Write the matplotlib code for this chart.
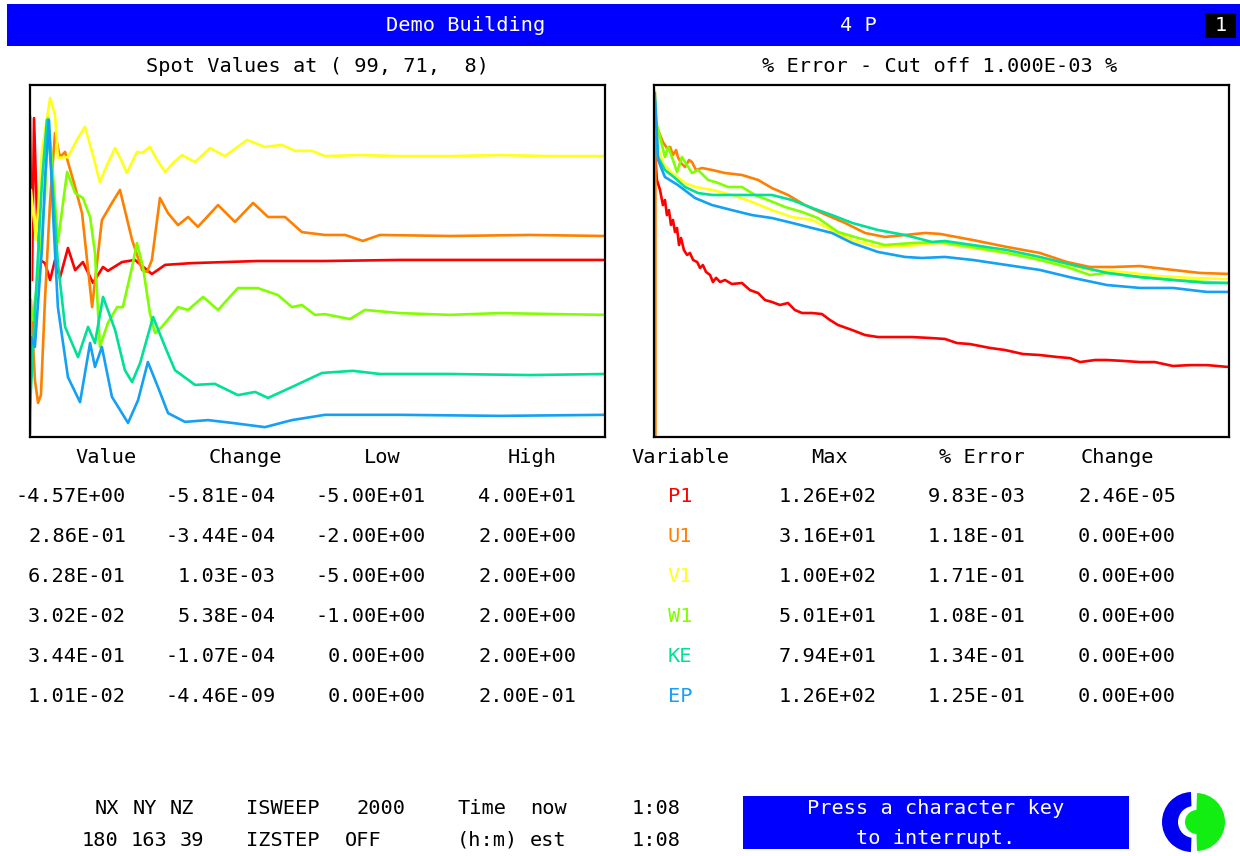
import matplotlib
matplotlib.use("Agg")
import matplotlib.pyplot as plt
from matplotlib.patches import Rectangle, Wedge, Circle

plt.rcParams['font.family'] = ['DejaVu Sans Mono', 'DejaVu Sans']

# ---------------- table data ----------------
variables = ["P1", "U1", "V1", "W1", "KE", "EP"]
var_colors = ["#ff0000", "#ff8000", "#ffff1a", "#80ff00", "#00e096", "#14a0f5"]
spot_value = [-4.57, 0.286, 0.628, 0.0302, 0.344, 0.0101]
spot_change = [-5.81e-4, -3.44e-4, 1.03e-3, 5.38e-4, -1.07e-4, -4.46e-9]
spot_low = [-50.0, -2.0, -5.0, -1.0, 0.0, 0.0]
spot_high = [40.0, 2.0, 2.0, 2.0, 2.0, 0.2]
var_max = [126.0, 31.6, 100.0, 50.1, 79.4, 126.0]
pct_error = [9.83e-3, 0.118, 0.171, 0.108, 0.134, 0.125]
err_change = [2.46e-5, 0.0, 0.0, 0.0, 0.0, 0.0]

# ---------------- spot value history (normalised between Low and High) ----------------
p1_spot_sweep = [0, 7, 14, 24, 35, 52, 70, 87, 104, 132, 157, 184, 219, 254, 271, 320, 365, 424, 470, 563, 678, 793, 1026, 1287, 2000]
p1_spot = [0.909, 0.446, 0.906, 0.636, 0.503, 0.494, 0.446, 0.503, 0.452, 0.537, 0.474, 0.497, 0.438, 0.483, 0.472, 0.497, 0.503, 0.463, 0.489, 0.494, 0.497, 0.500, 0.500, 0.503, 0.503]

u1_spot_sweep = [3, 17, 28, 38, 52, 70, 87, 104, 122, 157, 181, 216, 233, 250, 285, 313, 355, 390, 407, 424, 452, 480, 515, 550, 584, 654, 713, 776, 828, 887, 946, 1026, 1096, 1158, 1217, 1461, 1739, 2000]
u1_spot = [0.389, 0.162, 0.097, 0.119, 0.389, 0.673, 0.864, 0.795, 0.810, 0.710, 0.636, 0.369, 0.494, 0.616, 0.665, 0.702, 0.560, 0.474, 0.469, 0.503, 0.679, 0.636, 0.602, 0.625, 0.597, 0.659, 0.611, 0.665, 0.625, 0.625, 0.582, 0.574, 0.574, 0.557, 0.574, 0.571, 0.574, 0.571]

v1_spot_sweep = [0, 3, 21, 42, 70, 87, 97, 132, 163, 191, 219, 243, 268, 296, 317, 337, 372, 390, 417, 442, 470, 501, 529, 574, 626, 678, 717, 755, 817, 876, 922, 981, 1026, 1148, 1287, 1461, 1635, 1809, 2000]
v1_spot = [0.304, 0.702, 0.560, 0.815, 0.963, 0.915, 0.793, 0.795, 0.844, 0.881, 0.801, 0.724, 0.773, 0.821, 0.787, 0.750, 0.810, 0.807, 0.824, 0.787, 0.753, 0.781, 0.801, 0.781, 0.821, 0.798, 0.821, 0.844, 0.824, 0.830, 0.813, 0.813, 0.798, 0.801, 0.798, 0.798, 0.801, 0.798, 0.798]

w1_spot_sweep = [0, 7, 28, 52, 63, 77, 97, 129, 157, 184, 209, 226, 243, 271, 303, 323, 355, 372, 393, 417, 435, 459, 515, 550, 602, 654, 723, 793, 863, 911, 946, 991, 1026, 1113, 1165, 1287, 1461, 1635, 1843, 2000]
w1_spot = [0.389, 0.332, 0.446, 0.682, 0.906, 0.778, 0.554, 0.753, 0.693, 0.679, 0.625, 0.523, 0.256, 0.324, 0.369, 0.369, 0.483, 0.551, 0.483, 0.352, 0.295, 0.313, 0.369, 0.361, 0.398, 0.361, 0.423, 0.423, 0.403, 0.369, 0.375, 0.347, 0.349, 0.335, 0.361, 0.352, 0.347, 0.352, 0.349, 0.347]

ke_spot_sweep = [0, 17, 42, 59, 77, 97, 122, 146, 167, 202, 226, 254, 296, 330, 355, 383, 428, 470, 504, 574, 643, 723, 783, 828, 911, 1016, 1123, 1217, 1461, 1739, 2000]
ke_spot = [0.085, 0.352, 0.730, 0.901, 0.730, 0.494, 0.313, 0.267, 0.227, 0.313, 0.267, 0.398, 0.304, 0.190, 0.156, 0.210, 0.341, 0.256, 0.190, 0.148, 0.151, 0.119, 0.128, 0.111, 0.142, 0.182, 0.188, 0.179, 0.179, 0.176, 0.179]

ep_spot_sweep = [0, 3, 17, 42, 52, 66, 80, 97, 132, 174, 209, 226, 250, 285, 341, 376, 410, 445, 480, 539, 619, 703, 817, 911, 1026, 1287, 1635, 2000]
ep_spot = [0.011, 0.284, 0.256, 0.540, 0.730, 0.901, 0.636, 0.369, 0.170, 0.099, 0.267, 0.199, 0.256, 0.114, 0.040, 0.105, 0.213, 0.142, 0.068, 0.043, 0.048, 0.040, 0.028, 0.048, 0.063, 0.063, 0.060, 0.063]

# ---------------- % error history ----------------
p1_err_sweep = [3, 10, 21, 31, 38, 45, 52, 59, 66, 73, 80, 87, 94, 104, 115, 125, 136, 150, 160, 170, 181, 195, 205, 216, 230, 247, 271, 306, 334, 362, 386, 410, 438, 466, 490, 515, 550, 584, 612, 640, 689, 734, 779, 838, 897, 960, 1012, 1054, 1099, 1169, 1221, 1283, 1342, 1402, 1447, 1482, 1534, 1576, 1638, 1690, 1742, 1805, 1864, 1923, 2000]
p1_err = [11.9, 4.48, 3.23, 1.97, 2.32, 1.42, 1.67, 1.03, 1.21, 0.817, 0.931, 0.533, 0.671, 0.453, 0.385, 0.411, 0.327, 0.306, 0.252, 0.277, 0.221, 0.200, 0.159, 0.182, 0.159, 0.170, 0.149, 0.154, 0.122, 0.111, 0.0883, 0.0828, 0.0750, 0.0800, 0.0637, 0.0577, 0.0577, 0.0558, 0.0459, 0.0390, 0.0331, 0.0281, 0.0263, 0.0263, 0.0263, 0.0255, 0.0247, 0.0216, 0.0209, 0.0184, 0.0172, 0.0151, 0.0146, 0.0137, 0.0132, 0.0116, 0.0124, 0.0124, 0.0120, 0.0116, 0.0116, 0.0102, 0.0105, 0.0105, 0.00986]

u1_err_sweep = [5, 5, 14, 31, 45, 56, 66, 77, 83, 94, 108, 122, 132, 146, 167, 202, 247, 306, 362, 410, 466, 525, 584, 664, 734, 803, 873, 943, 995, 1109, 1228, 1342, 1436, 1516, 1596, 1690, 1805, 1899, 2000]
u1_err = [0.001, 16.6, 22.9, 15.5, 12.7, 13.2, 10.1, 11.9, 9.49, 7.80, 6.84, 8.61, 8.05, 6.21, 6.62, 6.21, 5.62, 5.27, 4.48, 3.44, 2.74, 1.97, 1.52, 1.10, 0.791, 0.694, 0.740, 0.791, 0.766, 0.628, 0.500, 0.411, 0.306, 0.260, 0.260, 0.268, 0.236, 0.214, 0.207]

v1_err_sweep = [3, 14, 31, 63, 108, 143, 202, 271, 341, 410, 480, 550, 619, 689, 779, 873, 995, 1109, 1228, 1342, 1457, 1516, 1631, 1749, 1864, 2000]
v1_err = [84.9, 13.2, 7.80, 5.62, 4.06, 3.56, 3.23, 2.74, 2.18, 1.67, 1.33, 1.21, 0.871, 0.628, 0.500, 0.516, 0.570, 0.484, 0.411, 0.349, 0.268, 0.236, 0.221, 0.194, 0.182, 0.175]

w1_err_sweep = [3, 21, 38, 49, 66, 80, 97, 132, 153, 188, 223, 257, 306, 351, 397, 456, 515, 570, 640, 710, 803, 897, 995, 1109, 1228, 1342, 1436, 1516, 1576, 1690, 1805, 1923, 2000]
w1_err = [35.1, 18.2, 9.49, 13.2, 8.61, 5.81, 9.49, 5.62, 6.21, 4.48, 4.06, 3.56, 3.56, 2.74, 2.32, 1.85, 1.57, 1.29, 0.817, 0.671, 0.533, 0.570, 0.589, 0.500, 0.411, 0.327, 0.260, 0.200, 0.214, 0.187, 0.170, 0.159, 0.154]

ke_err_sweep = [3, 14, 38, 73, 108, 153, 202, 316, 410, 480, 550, 619, 689, 779, 873, 967, 1012, 1109, 1228, 1342, 1457, 1576, 1690, 1805, 1923, 2000]
ke_err = [61.2, 9.49, 6.21, 4.78, 3.56, 2.92, 2.74, 2.74, 2.74, 2.32, 1.79, 1.42, 1.10, 0.871, 0.740, 0.589, 0.608, 0.533, 0.453, 0.361, 0.277, 0.214, 0.187, 0.170, 0.154, 0.154]

ep_err_sweep = [3, 14, 38, 83, 143, 202, 271, 341, 410, 480, 550, 619, 689, 779, 873, 932, 1012, 1109, 1228, 1342, 1457, 1576, 1690, 1805, 1923, 2000]
ep_err = [76.9, 8.61, 4.93, 3.80, 2.48, 1.97, 1.67, 1.42, 1.29, 1.10, 0.931, 0.791, 0.570, 0.425, 0.361, 0.349, 0.361, 0.327, 0.277, 0.236, 0.182, 0.144, 0.131, 0.131, 0.115, 0.115]

n_sweeps = 2000
err_cutoff = 1.0e-3
err_top = 1.0e2

# ---------------- figure ----------------
W, H = 1240, 856
fig = plt.figure(figsize=(W / 100, H / 100), dpi=100)
fig.patch.set_facecolor("white")

FS = 14.6
TXT = "#000000"
LW = 1.9

ov = fig.add_axes([0, 0, 1, 1], zorder=0)
ov.set_xlim(0, W)
ov.set_ylim(H, 0)
ov.axis("off")


def box_axes(x0, y0, x1, y1):
    ax = fig.add_axes([x0 / W, 1 - y1 / H, (x1 - x0) / W, (y1 - y0) / H], zorder=2)
    ax.set_xticks([])
    ax.set_yticks([])
    for s in ax.spines.values():
        s.set_linewidth(1.6)
        s.set_color("black")
    return ax


# header bar
ov.add_patch(Rectangle((7, 4), 1233, 42, facecolor="#0000ff", edgecolor="none"))
ov.text(466, 25, "Demo Building", color="white", fontsize=FS, ha="center", va="center")
ov.text(858, 25, "4 P", color="white", fontsize=FS, ha="center", va="center")
ov.add_patch(Rectangle((1205, 13), 31, 25, facecolor="black", edgecolor="none"))
ov.text(1221, 25, "1", color="white", fontsize=FS, ha="center", va="center")

# titles
ov.text(318, 66, "Spot Values at ( 99, 71,  8)", color=TXT, fontsize=FS, ha="center", va="center")
ov.text(940, 66, "%% Error - Cut off %.3E %%" % err_cutoff, color=TXT, fontsize=FS,
        ha="center", va="center")

# left plot: spot values
axL = box_axes(30, 85, 605, 437)
spot_series = [(p1_spot_sweep, p1_spot), (u1_spot_sweep, u1_spot), (v1_spot_sweep, v1_spot),
               (w1_spot_sweep, w1_spot), (ke_spot_sweep, ke_spot), (ep_spot_sweep, ep_spot)]
for (sx, sy), c in zip(spot_series, var_colors):
    axL.plot(sx, sy, color=c, lw=LW, solid_joinstyle="round")
axL.set_xlim(0, n_sweeps)
axL.set_ylim(0, 1)

# right plot: % error (log)
axR = box_axes(654, 85, 1229, 437)
err_series = [(p1_err_sweep, p1_err), (u1_err_sweep, u1_err), (v1_err_sweep, v1_err),
              (w1_err_sweep, w1_err), (ke_err_sweep, ke_err), (ep_err_sweep, ep_err)]
for (sx, sy), c in zip(err_series, var_colors):
    axR.plot(sx, sy, color=c, lw=LW, solid_joinstyle="round")
axR.set_yscale("log")
axR.set_xlim(0, n_sweeps)
axR.set_ylim(err_cutoff, err_top)
axR.set_xticks([])
axR.set_yticks([])
axR.minorticks_off()

# table headers
hdr_y = 457
for x, t in [(106, "Value"), (245, "Change"), (382, "Low"), (532, "High"),
             (680, "Variable"), (830, "Max"), (982, "% Error"), (1117, "Change")]:
    ov.text(x, hdr_y, t, color=TXT, fontsize=FS, ha="center", va="center")

row0, dy = 496, 40
fmt = lambda v: "%.2E" % v
for i, var in enumerate(variables):
    y = row0 + i * dy
    ov.text(126, y, fmt(spot_value[i]), color=TXT, fontsize=FS, ha="right", va="center")
    ov.text(276, y, fmt(spot_change[i]), color=TXT, fontsize=FS, ha="right", va="center")
    ov.text(426, y, fmt(spot_low[i]), color=TXT, fontsize=FS, ha="right", va="center")
    ov.text(576, y, fmt(spot_high[i]), color=TXT, fontsize=FS, ha="right", va="center")
    ov.text(680, y, var, color=var_colors[i], fontsize=FS, ha="center", va="center")
    ov.text(877, y, fmt(var_max[i]), color=TXT, fontsize=FS, ha="right", va="center")
    ov.text(1026, y, fmt(pct_error[i]), color=TXT, fontsize=FS, ha="right", va="center")
    ov.text(1176, y, fmt(err_change[i]), color=TXT, fontsize=FS, ha="right", va="center")

# bottom status lines
status1 = [(95, "NX"), (133, "NY"), (170, "NZ"), (246, "ISWEEP"), (357, "2000"),
           (458, "Time"), (530, "now"), (632, "1:08")]
status2 = [(82, "180"), (131, "163"), (180, "39"), (246, "IZSTEP"), (345, "OFF"),
           (457, "(h:m)"), (530, "est"), (632, "1:08")]
for x, t in status1:
    ov.text(x, 809, t, color=TXT, fontsize=FS, ha="left", va="center")
for x, t in status2:
    ov.text(x, 840, t, color=TXT, fontsize=FS, ha="left", va="center")

# interrupt box
ov.add_patch(Rectangle((743, 796), 386, 53, facecolor="#0000ff", edgecolor="none"))
ov.text(936, 809, "Press a character key", color="white", fontsize=FS, ha="center", va="center")
ov.text(936, 838, "to interrupt.", color="white", fontsize=FS, ha="center", va="center")

# logo
cx, cy = 1193, 822
GREEN, BLUE = "#12ee12", "#0000f0"
ov.add_patch(Wedge((cx + 3, cy), 29, -88, 88, facecolor=GREEN, edgecolor="none"))
ov.add_patch(Wedge((cx - 1, cy), 30, 92, 268, facecolor=BLUE, edgecolor="none"))
ov.add_patch(Wedge((cx + 1, cy), 16, 90, 270, facecolor="white", edgecolor="none"))
ov.add_patch(Circle((cx + 4, cy), 12, facecolor=GREEN, edgecolor="none"))

fig.savefig("out.png", dpi=100, facecolor="white")
